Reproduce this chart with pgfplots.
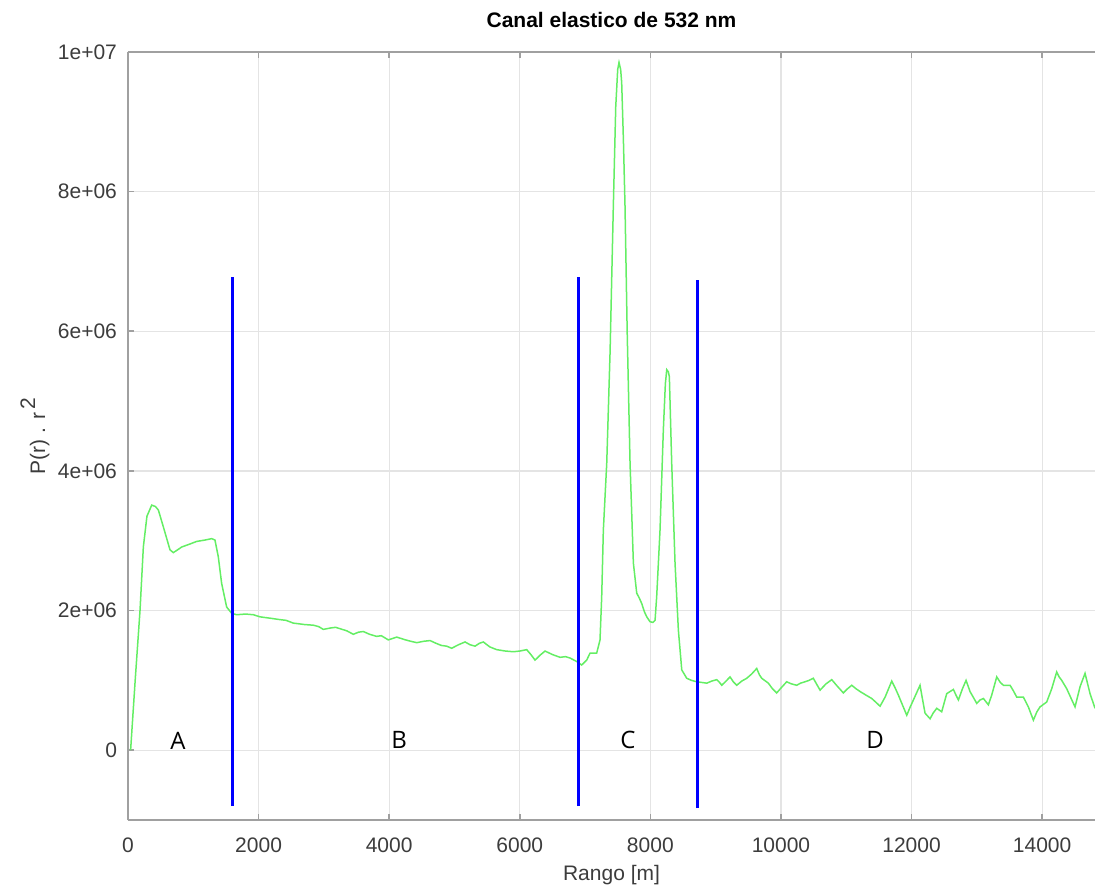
\documentclass[border=0pt]{standalone}
\usepackage{pgfplots}
\pgfplotsset{compat=1.18}
\usepackage{fontspec}
\setmainfont{Liberation Sans}
\newfontfamily\osans{Open Sans}
\definecolor{curve}{RGB}{100,238,100}
\definecolor{spine}{RGB}{160,160,160}
\definecolor{gridc}{RGB}{228,228,228}
\definecolor{tlab}{RGB}{60,60,60}
\begin{document}
\begin{tikzpicture}
\begin{axis}[
  name=ax, at={(0,0)}, anchor=south west,
  scale only axis, width=483.5pt, height=384pt,
  xmin=0, xmax=14810, ymin=-1e6, ymax=1e7,
  axis x line*=box, axis y line*=left,
  axis line style={spine, line width=0.9pt},
  tick align=inside, major tick length=3pt,
  every tick/.style={spine, line width=0.8pt},
  grid=major, major grid style={gridc, line width=0.6pt},
  scaled ticks=false,
  xtick={0,2000,4000,6000,8000,10000,12000,14000},
  xticklabels={0,2000,4000,6000,8000,10000,12000,14000},
  ytick={0,2e6,4e6,6e6,8e6,1e7},
  yticklabels={0,2e+06,4e+06,6e+06,8e+06,1e+07},
  ticklabel style={font=\fontsize{10.5}{12}\selectfont, text=tlab},
  xticklabel style={yshift=-5.5pt},
  yticklabel style={xshift=-2pt},
  title={\textbf{Canal elastico de 532 nm}},
  title style={font=\fontsize{10.5}{12}\selectfont, at={(0.5,1)}, anchor=base, yshift=6pt},
  xlabel={Rango [m]},
  xlabel style={font=\fontsize{10.5}{12}\selectfont, text=tlab, at={(axis description cs:0.5,-0.0718)}, anchor=center},
  ylabel={P(r) . r\raisebox{0.9ex}{\,2}},
  ylabel style={font=\fontsize{10.5}{12}\selectfont, text=tlab, at={(axis description cs:-0.0962,0.5)}, anchor=center},
  clip=true,
]
\addplot[curve, line width=0.75pt] coordinates {
(40,0) (110,1.0e6) (184,2.0e6) (235,2.91e6) (290,3.35e6) (363,3.51e6) (420,3.49e6)
(465,3.44e6) (541,3.20e6) (643,2.87e6) (694,2.83e6) (760,2.87e6) (822,2.91e6)
(940,2.95e6) (1052,2.99e6) (1180,3.01e6) (1282,3.03e6) (1332,3.01e6) (1383,2.77e6)
(1434,2.39e6) (1511,2.05e6) (1588,1.96e6) (1664,1.94e6) (1800,1.95e6) (1920,1.94e6)
(2022,1.91e6) (2100,1.90e6) (2180,1.89e6) (2328,1.87e6) (2420,1.86e6) (2532,1.82e6)
(2620,1.81e6) (2700,1.80e6) (2839,1.79e6) (2920,1.77e6) (2992,1.73e6) (3100,1.75e6)
(3180,1.76e6) (3247,1.74e6) (3350,1.71e6) (3451,1.66e6) (3530,1.69e6) (3604,1.70e6)
(3700,1.66e6) (3808,1.63e6) (3880,1.64e6) (3987,1.58e6) (4115,1.62e6) (4250,1.58e6)
(4330,1.56e6) (4422,1.54e6) (4530,1.56e6) (4626,1.57e6) (4720,1.53e6) (4800,1.50e6)
(4880,1.49e6) (4958,1.46e6) (5060,1.51e6) (5162,1.55e6) (5240,1.51e6) (5315,1.49e6)
(5380,1.53e6) (5442,1.55e6) (5540,1.48e6) (5647,1.44e6) (5780,1.42e6) (5902,1.41e6)
(6000,1.42e6) (6106,1.44e6) (6170,1.37e6) (6234,1.29e6) (6310,1.36e6) (6387,1.42e6)
(6500,1.37e6) (6617,1.33e6) (6700,1.34e6) (6770,1.32e6) (6872,1.27e6) (6948,1.22e6)
(7025,1.29e6) (7076,1.39e6) (7178,1.39e6) (7229,1.58e6) (7255,2.20e6) (7280,3.15e6)
(7332,4.11e6) (7383,5.7e6) (7433,7.79e6) (7470,9.22e6) (7500,9.75e6) (7520,9.85e6)
(7545,9.75e6) (7561,9.56e6) (7587,8.75e6) (7612,7.79e6) (7645,6.0e6) (7689,4.11e6)
(7740,2.68e6) (7791,2.25e6) (7830,2.18e6) (7868,2.10e6) (7910,1.98e6) (7945,1.91e6)
(7995,1.84e6) (8040,1.83e6) (8072,1.86e6) (8097,2.20e6) (8148,3.15e6) (8199,4.59e6)
(8230,5.25e6) (8251,5.45e6) (8275,5.42e6) (8291,5.35e6) (8327,4.11e6) (8378,2.68e6)
(8429,1.72e6) (8481,1.15e6) (8557,1.03e6) (8630,1.00e6) (8710,0.98e6) (8790,0.97e6)
(8863,0.96e6) (8940,0.99e6) (9017,1.01e6) (9060,0.97e6) (9093,0.93e6) (9160,0.99e6)
(9220,1.05e6) (9270,0.98e6) (9323,0.93e6) (9400,0.99e6) (9476,1.03e6) (9550,1.09e6)
(9629,1.17e6) (9670,1.08e6) (9706,1.03e6) (9807,0.96e6) (9870,0.88e6) (9935,0.82e6)
(10010,0.90e6) (10088,0.98e6) (10160,0.95e6) (10241,0.93e6) (10300,0.96e6) (10369,0.98e6)
(10430,1.00e6) (10496,1.03e6) (10550,0.94e6) (10599,0.86e6) (10690,0.95e6) (10778,1.01e6)
(10860,0.92e6) (10956,0.82e6) (11020,0.88e6) (11084,0.93e6) (11150,0.88e6) (11212,0.84e6)
(11300,0.79e6) (11391,0.74e6) (11450,0.69e6) (11518,0.63e6) (11595,0.76e6) (11697,0.99e6)
(11750,0.89e6) (11798,0.79e6) (11860,0.65e6) (11927,0.50e6) (11980,0.62e6) (12029,0.72e6)
(12130,0.93e6) (12170,0.72e6) (12207,0.53e6) (12284,0.45e6) (12330,0.53e6) (12386,0.60e6)
(12462,0.55e6) (12539,0.81e6) (12641,0.87e6) (12680,0.79e6) (12718,0.72e6) (12780,0.88e6)
(12835,1.00e6) (12896,0.84e6) (12999,0.67e6) (13050,0.72e6) (13101,0.74e6) (13177,0.65e6)
(13228,0.79e6) (13305,1.05e6) (13360,0.97e6) (13407,0.93e6) (13509,0.93e6) (13560,0.85e6)
(13611,0.76e6) (13713,0.76e6) (13789,0.62e6) (13866,0.43e6) (13920,0.55e6) (13968,0.62e6)
(14070,0.69e6) (14147,0.88e6) (14223,1.12e6) (14260,1.05e6) (14300,1.00e6) (14377,0.88e6)
(14440,0.75e6) (14504,0.62e6) (14581,0.91e6) (14657,1.10e6) (14734,0.81e6) (14810,0.60e6)
};
\addplot[blue, line width=1.5pt] coordinates {(1600,-0.8e6) (1600,6.78e6)};
\addplot[blue, line width=1.5pt] coordinates {(6900,-0.8e6) (6900,6.78e6)};
\addplot[blue, line width=1.5pt] coordinates {(8720,-0.83e6) (8720,6.74e6)};
\node[font=\osans\fontsize{12}{14}\selectfont] at (axis cs:766,0.14e6) {A};
\node[font=\osans\fontsize{12}{14}\selectfont] at (axis cs:4151,0.14e6) {B};
\node[font=\osans\fontsize{12}{14}\selectfont] at (axis cs:7658,0.14e6) {C};
\node[font=\osans\fontsize{12}{14}\selectfont] at (axis cs:11441,0.14e6) {D};
\end{axis}
\pgfresetboundingbox
\path[use as bounding box] (-64pt,-34.5pt) rectangle (483.5pt,410pt);
\end{tikzpicture}
\end{document}
